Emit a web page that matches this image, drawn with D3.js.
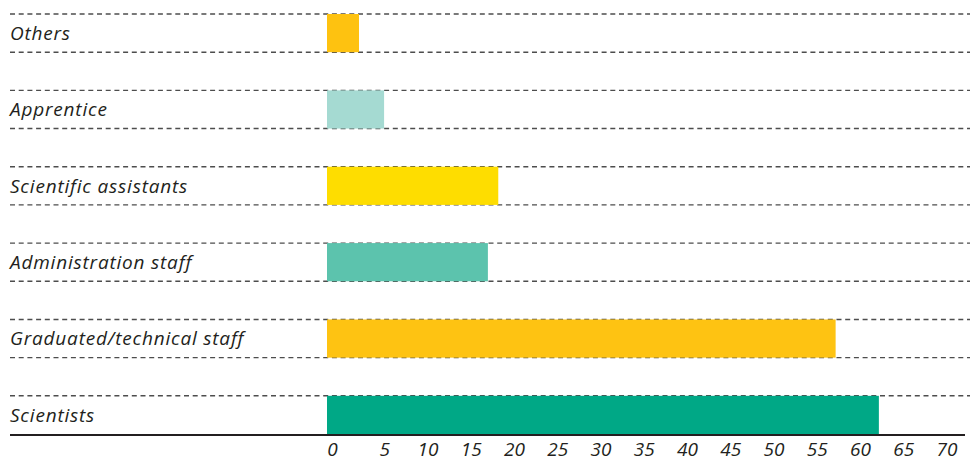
<!DOCTYPE html>
<meta charset="utf-8">
<style>
body { margin: 0; background: #fff; }
.grid line { stroke: #4d4d4d; stroke-width: 1.4; stroke-dasharray: 5,3.7; }
text { font-family: "Open Sans", sans-serif; font-style: italic; fill: #231f20; }
</style>
<body>
<svg width="970" height="464"></svg>
<script src="https://cdnjs.cloudflare.com/ajax/libs/d3/7.8.5/d3.min.js"></script>
<script>

// categories top to bottom
var categories = ["Others", "Apprentice", "Scientific assistants", "Administration staff", "Graduated/technical staff", "Scientists"];
var values = [3.7, 6.6, 19.8, 18.6, 58.8, 63.8];
var colors = ["#fec210", "#a5dad2", "#fedd00", "#5cc3ad", "#fec312", "#00a886"];
var tickValues = [0, 5, 10, 15, 20, 25, 30, 35, 40, 45, 50, 55, 60, 65, 70];

var svg = d3.select("svg");

var x = d3.scaleLinear()
	.domain([0, 70])
	.range([327, 327 + 70 * 8.65]);

var y = d3.scaleBand()
	.domain(categories)
	.range([14, 434])
	.paddingInner(0.5)
	.paddingOuter(0);

// dashed lines above and below each bar (bottom of last row is the axis)
var gridY = [];
categories.forEach(function(c, i){
	gridY.push(y(c));
	if (i < categories.length - 1) gridY.push(y(c) + y.bandwidth());
});

svg.append("g")
	.attr("class", "grid")
	.selectAll("line")
	.data(gridY)
	.enter().append("line")
	.attr("x1", 10)
	.attr("x2", 970)
	.attr("y1", function(d){ return d; })
	.attr("y2", function(d){ return d; });

svg.append("g")
	.selectAll("rect")
	.data(values)
	.enter().append("rect")
	.attr("x", x(0))
	.attr("y", function(d, i){ return y(categories[i]); })
	.attr("width", function(d){ return x(d) - x(0); })
	.attr("height", y.bandwidth())
	.attr("fill", function(d, i){ return colors[i]; });

svg.append("g")
	.selectAll("text")
	.data(categories)
	.enter().append("text")
	.attr("x", 10)
	.attr("y", function(d){ return y(d) + y.bandwidth() / 2; })
	.attr("dy", "0.36em")
	.style("font-size", "19px")
	.style("letter-spacing", "0.8px")
	.text(function(d){ return d; });

// axis line
svg.append("line")
	.attr("x1", 10)
	.attr("x2", 965)
	.attr("y1", 435)
	.attr("y2", 435)
	.style("stroke", "#231f20")
	.style("stroke-width", 2.2);

var xAxis = d3.axisBottom(x)
	.tickValues(tickValues)
	.tickSize(0)
	.tickPadding(0);

var ax = svg.append("g")
	.attr("transform", "translate(0,440)")
	.call(xAxis);

ax.select(".domain").remove();
ax.selectAll("text")
	.attr("dy", "0.85em")
	.attr("dx", function(d){ return d === 0 ? 5 : 14; })
	.style("font-size", "19px")
	.style("font-family", "'Open Sans', sans-serif")
	.style("fill", "#231f20");

</script>
</body>
